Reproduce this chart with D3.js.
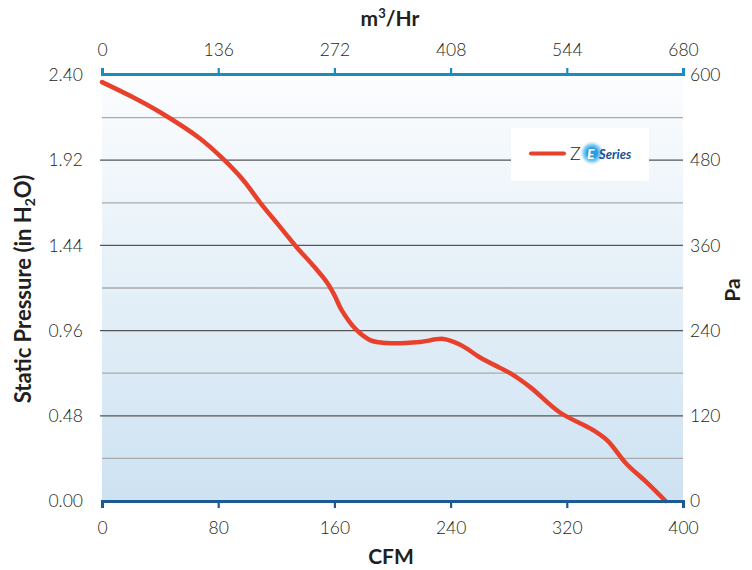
<!DOCTYPE html>
<html lang="en">
<head>
<meta charset="UTF-8">
<title>Fan Curve</title>
<script src="https://cdn.jsdelivr.net/npm/d3@7"></script>
<style>
	*{ margin:0; box-sizing:border-box; }
	html,body{ width:752px; height:570px; overflow:hidden; background:#fff; }
	text{ font-family:"Lato","Open Sans",sans-serif; fill:#231f20; }
	.tick text{ font-size:17.5px; font-weight:300; }
	.title{ font-weight:700; font-size:21px; }
</style>
</head>
<body>
<svg id="svg"></svg>
<script>
// curve: airflow (CFM) vs static pressure (in H2O)
var cfm      = [0, 20, 40, 67, 83, 97, 109, 122, 134, 145, 155, 160, 165, 175, 185, 196, 219, 235, 247, 260, 274, 281, 295, 315, 338, 348, 361, 375, 388];
var pressure = [2.36, 2.28, 2.19, 2.045, 1.93, 1.81, 1.68, 1.55, 1.43, 1.33, 1.23, 1.16, 1.075, 0.965, 0.905, 0.89, 0.896, 0.913, 0.879, 0.81, 0.75, 0.72, 0.64, 0.50, 0.40, 0.34, 0.21, 0.105, 0];

var cfmTicks  = [0, 80, 160, 240, 320, 400];
var m3hTicks  = [0, 136, 272, 408, 544, 680];
var inTicks   = [0, 0.48, 0.96, 1.44, 1.92, 2.40];
var minorTicks = [0.24, 0.72, 1.20, 1.68, 2.16];
var paTicks   = [0, 120, 240, 360, 480, 600];

var W = 752, H = 570,
	pL = 102, pR = 683, pT = 75, pB = 501;

var svg = d3.select("#svg").attr("width", W).attr("height", H);

var x = d3.scaleLinear().domain([0, 400]).range([pL, pR]);
var x2 = d3.scaleLinear().domain([0, 680]).range([pL, pR]);
var y = d3.scaleLinear().domain([0, 2.40]).range([pB, pT]);
var y2 = d3.scaleLinear().domain([0, 600]).range([pB, pT]);

var defs = svg.append("defs");
var grad = defs.append("linearGradient").attr("id", "bg")
	.attr("x1", 0).attr("y1", 0).attr("x2", 0).attr("y2", 1);
grad.append("stop").attr("offset", "0%").attr("stop-color", "#fcfdfe");
grad.append("stop").attr("offset", "100%").attr("stop-color", "#cde2f2");

svg.append("rect")
	.attr("x", pL).attr("y", pT)
	.attr("width", pR - pL).attr("height", pB - pT)
	.attr("fill", "url(#bg)");

// grid
svg.append("g").selectAll("line").data(minorTicks).enter().append("line")
	.attr("x1", pL).attr("x2", pR)
	.attr("y1", function(d){ return y(d); }).attr("y2", function(d){ return y(d); })
	.attr("stroke", "#aaaaaa").attr("stroke-width", 1.3);
svg.append("g").selectAll("line").data(inTicks.slice(1, -1)).enter().append("line")
	.attr("x1", pL - 2).attr("x2", pR)
	.attr("y1", function(d){ return y(d); }).attr("y2", function(d){ return y(d); })
	.attr("stroke", "#555555").attr("stroke-width", 1.3);

// left labels
svg.append("g").attr("transform", "translate(" + (pL - 19) + ",0)")
	.call(d3.axisLeft(y).tickValues(inTicks).tickFormat(d3.format(".2f")).tickSize(0).tickPadding(0))
	.call(function(g){ g.select(".domain").remove(); });

// right labels
svg.append("g").attr("transform", "translate(" + (pR + 7) + ",0)")
	.call(d3.axisRight(y2).tickValues(paTicks).tickFormat(d3.format("d")).tickSize(0).tickPadding(0))
	.call(function(g){ g.select(".domain").remove(); });

// legend
var lg = svg.append("g").attr("transform", "translate(511,128)");
lg.append("rect").attr("width", 138).attr("height", 53).attr("fill", "#fff");
lg.append("line").attr("x1", 20).attr("x2", 53).attr("y1", 25.5).attr("y2", 25.5)
	.attr("stroke", "#e8402a").attr("stroke-width", 4).attr("stroke-linecap", "round");
lg.append("text").attr("x", 59).attr("y", 32).style("font-size", "18px").style("font-weight", 300).text("Z");
var blur = defs.append("filter").attr("id", "soft").attr("x", "-50%").attr("y", "-50%").attr("width", "200%").attr("height", "200%");
blur.append("feGaussianBlur").attr("stdDeviation", 1.8);
lg.append("circle").attr("cx", 81).attr("cy", 25).attr("r", 9.5).attr("fill", "#5cbcec").attr("filter", "url(#soft)");
lg.append("circle").attr("cx", 81).attr("cy", 25).attr("r", 6).attr("fill", "#2a9ee0");
lg.append("text").attr("x", 76).attr("y", 30.5).style("font-size", "14px").style("font-weight", 900)
	.style("font-style", "italic").style("fill", "#fff").text("E");
lg.append("text").attr("x", 88).attr("y", 30.5).style("font-size", "13px").style("font-weight", 700)
	.style("font-style", "italic").style("fill", "#1b4f94").text("Series");

// curve
var pts = cfm.map(function(c, i){ return [c, pressure[i]]; });
svg.append("path").datum(pts)
	.attr("fill", "none").attr("stroke", "#e8402a").attr("stroke-width", 4.5)
	.attr("stroke-linecap", "round").attr("stroke-linejoin", "round")
	.attr("d", d3.line()
		.x(function(d){ return x(d[0]); })
		.y(function(d){ return y(d[1]); })
		.curve(d3.curveCatmullRom.alpha(0.5)));

// bottom axis
var gb = svg.append("g").attr("transform", "translate(0," + pB + ")")
	.call(d3.axisBottom(x).tickValues(cfmTicks).tickSize(7).tickSizeOuter(7).tickPadding(14));
gb.select(".domain").attr("stroke", "#1b5a92").attr("stroke-width", 3).attr("fill", "none");
gb.selectAll(".tick line").attr("stroke", "#1b5a92").attr("stroke-width", 2.2);

// top axis
var gt = svg.append("g").attr("transform", "translate(0," + (pT - 1) + ")")
	.call(d3.axisTop(x2).tickValues(m3hTicks).tickSize(6).tickSizeOuter(6).tickPadding(12));
gt.select(".domain").attr("stroke", "#1a8cc2").attr("stroke-width", 3).attr("fill", "none");
gt.selectAll(".tick line").attr("stroke", "#1a8cc2").attr("stroke-width", 2.2);

svg.selectAll(".tick text").style("fill", "#231f20");

// titles
svg.append("text").attr("class", "title").attr("x", 391).attr("y", 564)
	.attr("text-anchor", "middle").text("CFM");
var t2 = svg.append("text").attr("class", "title").attr("x", 390).attr("y", 26)
	.attr("text-anchor", "middle");
t2.append("tspan").text("m");
t2.append("tspan").attr("dy", -8).style("font-size", "13px").text("3");
t2.append("tspan").attr("dy", 8).text("/Hr");

var t3 = svg.append("text").attr("class", "title").style("font-size", "22px")
	.attr("transform", "translate(31,289) rotate(-90)").attr("text-anchor", "middle");
t3.append("tspan").text("Static Pressure (in H");
t3.append("tspan").attr("dy", 4).style("font-size", "14px").text("2");
t3.append("tspan").attr("dy", -4).text("O)");

svg.append("text").attr("class", "title")
	.attr("transform", "translate(740,290) rotate(-90)").attr("text-anchor", "middle").text("Pa");
</script>
</body>
</html>
